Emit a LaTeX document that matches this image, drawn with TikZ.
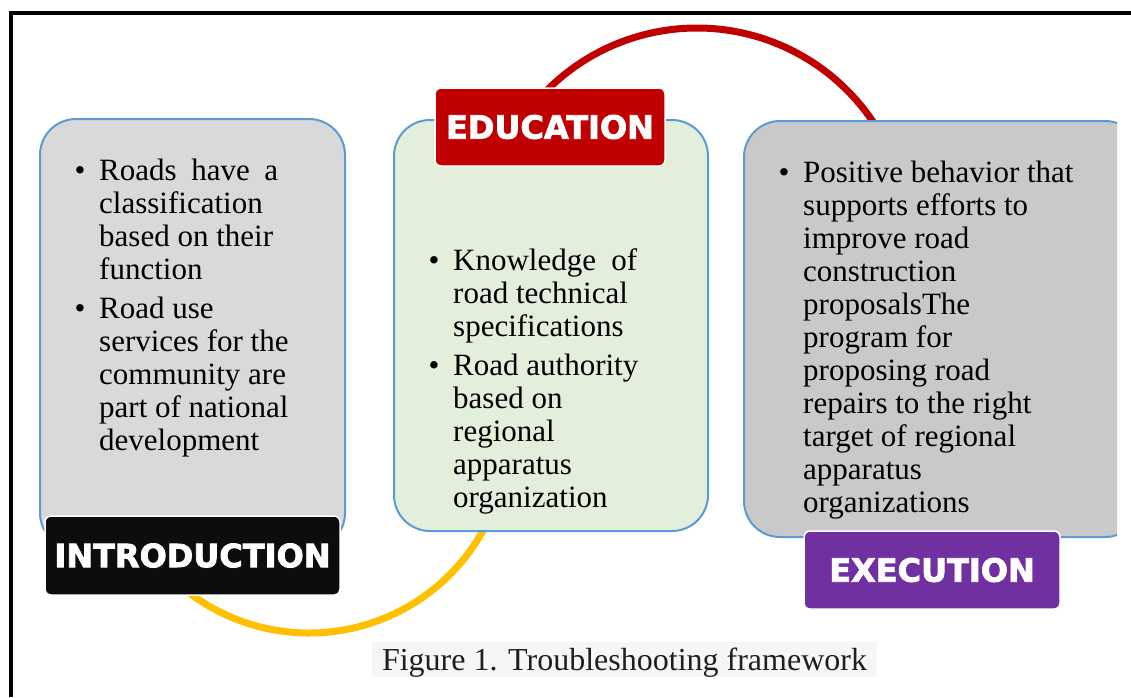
\documentclass[tikz,border=0pt]{standalone}
\usepackage{fontspec}
\setmainfont{Liberation Serif}
\newfontfamily\lblfont[FakeBold=2.5]{DejaVu Sans Bold}
\definecolor{boxblue}{HTML}{5B9BD5}
\definecolor{lgray}{HTML}{D9D9D9}
\definecolor{rgray}{HTML}{C9C9C9}
\definecolor{lgreen}{HTML}{E2EFDA}
\definecolor{edred}{HTML}{C00000}
\definecolor{arcyellow}{HTML}{FFC000}
\definecolor{expurple}{HTML}{7030A0}
\definecolor{inblack}{HTML}{0D0D0D}
\definecolor{capbg}{HTML}{F6F6F6}
\newcommand\mybitem[1]{\hbox{\makebox[24.5pt][l]{\textbullet}#1}}
\newcommand\myline[1]{\hbox{\hspace*{24.5pt}#1}}
\begin{document}
\begin{tikzpicture}[x=1pt,y=-1pt,
  panel/.style={draw=boxblue, line width=2pt, rounded corners=36pt, anchor=north west, inner sep=0pt},
  tag/.style={draw=white, line width=1.5pt, rounded corners=6pt, inner sep=0pt,
     font=\lblfont\fontsize{32pt}{36pt}\selectfont, text=white},
  body/.style={anchor=base west, inner sep=0pt, font=\fontsize{31pt}{33pt}\selectfont, text=black},
  arcline/.style={line width=7pt}]
\useasboundingbox (0,0) rectangle (1131,697);
% frame
\draw[line width=4pt, black] (10.5,697) -- (10.5,12.5) -- (1131,12.5);
% arc centres
\coordinate (redc) at (697,240);
\coordinate (yelc) at (309,434);
\draw[arcline, edred] (redc) ++(-140:212) arc[start angle=-140, end angle=-30, radius=212];
\draw[arcline, arcyellow] (yelc) ++(130:199) arc[start angle=130, end angle=25, radius=199];
% panels
\node[panel, fill=lgray, minimum width=305pt, minimum height=430pt] (intro) at (39,118) {};
\node[panel, fill=lgreen, minimum width=314pt, minimum height=411pt] (educ) at (393,119) {};
\begin{scope}
\clip (0,0) rectangle (1117,697);
\node[panel, fill=rgray, minimum width=397pt, minimum height=416pt] (exec) at (743,120) {};
\end{scope}
% tags
\node[tag, fill=inblack, minimum width=295pt, minimum height=79pt] (introtag) at (192.5,555.5) {INTRODUCTION};
\node[tag, fill=edred, minimum width=230pt, minimum height=78pt] (eductag) at (550,127) {EDUCATION};
\node[tag, fill=expurple, minimum width=256pt, minimum height=78pt] (exectag) at (932,570) {EXECUTION};
% texts
\node[body] (introtext) at (74.5,180) {\vtop{%
  \mybitem{\makebox[179pt][s]{Roads have a}}
  \myline{classification}
  \myline{based on their}
  \myline{function}
  \vskip6pt
  \mybitem{Road use}
  \myline{services for the}
  \myline{community are}
  \myline{part of national}
  \myline{development}}};
\node[body] (eductext) at (428.5,270) {\vtop{%
  \mybitem{\makebox[184pt][s]{Knowledge of}}
  \myline{road technical}
  \myline{specifications}
  \vskip6pt
  \mybitem{Road authority}
  \myline{based on}
  \myline{regional}
  \myline{apparatus}
  \myline{organization}}};
\node[body] (exectext) at (778.5,182) {\vtop{%
  \mybitem{Positive behavior that}
  \myline{supports efforts to}
  \myline{improve road}
  \myline{construction}
  \myline{proposalsThe}
  \myline{program for}
  \myline{proposing road}
  \myline{repairs to the right}
  \myline{target of regional}
  \myline{apparatus}
  \myline{organizations}}};
% caption
\node[fill=capbg, inner sep=0pt, minimum width=505pt, text height=28pt, text depth=7pt,
      font=\fontsize{32pt}{36pt}\selectfont, text=black!88] (caption) at (624.5,659.5)
      {Figure 1. Troubleshooting framework};
\end{tikzpicture}
\end{document}
